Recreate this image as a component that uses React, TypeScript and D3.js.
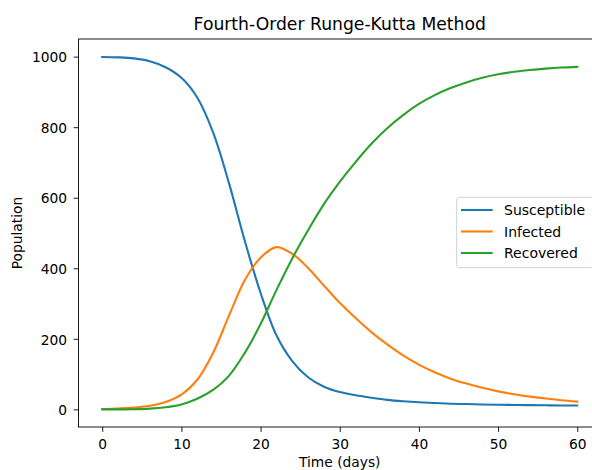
import { useEffect, useRef } from "react";
import * as d3 from "d3";

// days sampled every 2 days
const days = [0, 2, 4, 6, 8, 10, 12, 14, 16, 18, 20, 22, 24, 26, 28, 30, 32, 34, 36, 38, 40, 42, 44, 46, 48, 50, 52, 54, 56, 58, 60];

const susceptible = [999, 998, 995, 987, 970, 940, 884, 785, 642, 478, 330, 210, 137, 91, 64, 49, 40, 33, 27, 23, 20, 18, 16, 15, 14, 13, 12.5, 12, 11.5, 11, 11];
const infected = [1, 2.5, 5, 10, 21, 42, 84, 160, 265, 366, 430, 460, 441, 401, 351, 302, 259, 219, 184, 153, 127, 105, 87, 73, 61, 51, 43, 36, 31, 26, 22];
const recovered = [0, 0, 0.5, 2, 6, 14, 30, 55, 95, 160, 242, 338, 428, 508, 582, 645, 701, 753, 797, 834, 866, 891, 911, 927, 940, 950, 957, 962, 966, 969, 971];

const seriesNames = ["Susceptible", "Infected", "Recovered"];
const seriesColors = ["#1f77b4", "#ff7f0e", "#2ca02c"];

const xTicks = [0, 10, 20, 30, 40, 50, 60];
const yTicks = [0, 200, 400, 600, 800, 1000];

const W = 592;
const H = 470;
const FONT = "DejaVu Sans, sans-serif";

export default function App() {
  const ref = useRef<SVGSVGElement | null>(null);

  useEffect(() => {
    if (!ref.current) return;
    const svg = d3.select(ref.current);
    svg.selectAll("*").remove();

    const left = 78.5, right = 601, top = 39, bottom = 427;

    const x = d3.scaleLinear().domain([-3, 63]).range([left, right]);
    const y = d3.scaleLinear().domain([-50, 1050]).range([bottom, top]);

    svg.append("rect")
      .attr("width", W).attr("height", H).attr("fill", "#fff");

    // curves
    const all = [susceptible, infected, recovered];
    const line = d3.line<number>()
      .x((_, i) => x(days[i]))
      .y(d => y(d))
      .curve(d3.curveCatmullRom.alpha(0.5));

    all.forEach((vals, k) => {
      svg.append("path")
        .datum(vals)
        .attr("fill", "none")
        .attr("stroke", seriesColors[k])
        .attr("stroke-width", 2.1)
        .attr("stroke-linejoin", "round")
        .attr("stroke-linecap", "square")
        .attr("d", line);
    });

    // spines
    svg.append("rect")
      .attr("x", left).attr("y", top)
      .attr("width", right - left).attr("height", bottom - top)
      .attr("fill", "none").attr("stroke", "#000").attr("stroke-width", 0.9);

    // axes
    const gx = svg.append("g")
      .attr("transform", `translate(0,${bottom})`)
      .call(d3.axisBottom(x).tickValues(xTicks).tickSize(4.9).tickPadding(7).tickFormat(d3.format("d")));
    const gy = svg.append("g")
      .attr("transform", `translate(${left},0)`)
      .call(d3.axisLeft(y).tickValues(yTicks).tickSize(4.9).tickPadding(6.6).tickFormat(d3.format("d")));

    [gx, gy].forEach(g => {
      g.select(".domain").remove();
      g.selectAll("line").attr("stroke", "#000").attr("stroke-width", 0.9);
      g.selectAll("text")
        .attr("fill", "#000")
        .style("font-family", FONT)
        .style("font-size", "13.8px");
    });
    gy.selectAll("text").attr("dy", "0.38em");

    // title and labels
    svg.append("text")
      .attr("x", (left + right) / 2).attr("y", 30)
      .attr("text-anchor", "middle")
      .style("font-family", FONT).style("font-size", "17.2px")
      .text("Fourth-Order Runge-Kutta Method");

    svg.append("text")
      .attr("x", (left + right) / 2).attr("y", 467)
      .attr("text-anchor", "middle")
      .style("font-family", FONT).style("font-size", "13.8px")
      .text("Time (days)");

    svg.append("text")
      .attr("transform", `translate(22,${(top + bottom) / 2}) rotate(-90)`)
      .attr("text-anchor", "middle")
      .style("font-family", FONT).style("font-size", "13.8px")
      .text("Population");

    // legend
    const lg = svg.append("g");
    lg.append("rect")
      .attr("x", 456.7).attr("y", 197.3)
      .attr("width", 136.5).attr("height", 70.4)
      .attr("rx", 2.8)
      .attr("fill", "#fff").attr("fill-opacity", 0.8)
      .attr("stroke", "#cccccc").attr("stroke-width", 0.9);

    seriesNames.forEach((name, k) => {
      const cy = 210 + k * 21.5;
      lg.append("line")
        .attr("x1", 461).attr("x2", 492.7)
        .attr("y1", cy).attr("y2", cy)
        .attr("stroke", seriesColors[k]).attr("stroke-width", 2.1);
      lg.append("text")
        .attr("x", 504).attr("y", cy + 5)
        .style("font-family", FONT).style("font-size", "14px")
        .text(name);
    });
  }, []);

  return (
    <svg
      ref={ref}
      width={W}
      height={H}
      style={{ position: "absolute", left: 0, top: 0 }}
    />
  );
}
